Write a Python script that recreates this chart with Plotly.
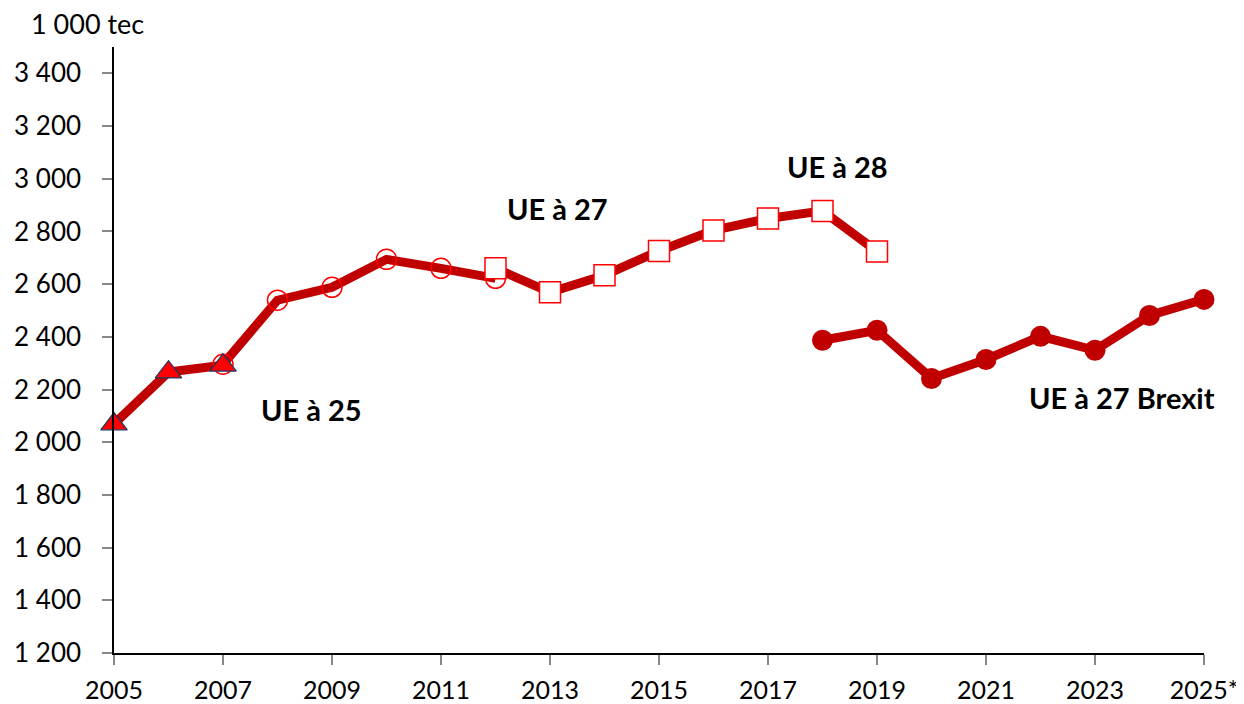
import plotly.graph_objects as go

# Data
years_ue25 = [2005, 2006, 2007]
vals_ue25 = [2069, 2266, 2292]

years_ue27 = [2007, 2008, 2009, 2010, 2011, 2012]
vals_ue27 = [2296, 2539, 2588, 2694, 2660, 2622]

years_ue28 = [2012, 2013, 2014, 2015, 2016, 2017, 2018, 2019]
vals_ue28 = [2660, 2569, 2634, 2726, 2804, 2849, 2878, 2724]

years_brexit = [2018, 2019, 2020, 2021, 2022, 2023, 2024, 2025]
vals_brexit = [2387, 2425, 2242, 2314, 2402, 2349, 2481, 2542]

x_tickvals = [2005, 2007, 2009, 2011, 2013, 2015, 2017, 2019, 2021, 2023, 2025]
x_ticktext = ["2005", "2007", "2009", "2011", "2013", "2015", "2017", "2019", "2021", "2023", "2025*"]
y_tickvals = [1200, 1400, 1600, 1800, 2000, 2200, 2400, 2600, 2800, 3000, 3200, 3400]
y_ticktext = ["1 200", "1 400", "1 600", "1 800", "2 000", "2 200", "2 400", "2 600", "2 800", "3 000", "3 200", "3 400"]

label_texts = ["UE à 25", "UE à 27", "UE à 28", "UE à 27 Brexit"]
label_x = [2008.63, 2013.13, 2018.28, 2023.5]
label_y = [2125, 2888, 3047, 2171]

LINE = "#C00000"
FONT = "Lato"

fig = go.Figure()

for xs, ys in [(years_ue25, vals_ue25), (years_ue27, vals_ue27), (years_ue28, vals_ue28)]:
    fig.add_trace(go.Scatter(x=xs, y=ys, mode="lines",
                             line=dict(color=LINE, width=9), cliponaxis=False,
                             hoverinfo="skip", showlegend=False))

fig.add_trace(go.Scatter(x=years_ue27, y=vals_ue27, mode="markers", cliponaxis=False,
                         marker=dict(symbol="circle-open", size=20, color="#FF0000",
                                     line=dict(color="#FF0000", width=1.5)),
                         showlegend=False))
fig.add_trace(go.Scatter(x=years_ue25, y=vals_ue25, mode="markers", cliponaxis=False,
                         marker=dict(symbol="triangle-up", size=23, color="#FF0000",
                                     line=dict(color="#203864", width=1.2)),
                         showlegend=False))
fig.add_trace(go.Scatter(x=years_ue28, y=vals_ue28, mode="markers", cliponaxis=False,
                         marker=dict(symbol="square", size=21, color="white",
                                     line=dict(color="#FF0000", width=1.5)),
                         showlegend=False))
fig.add_trace(go.Scatter(x=years_brexit, y=vals_brexit, mode="lines+markers", cliponaxis=False,
                         line=dict(color=LINE, width=9),
                         marker=dict(symbol="circle", size=21, color=LINE),
                         showlegend=False))

for txt, ax, ay in zip(label_texts, label_x, label_y):
    fig.add_annotation(x=ax, y=ay, text="<b>" + txt + "</b>", showarrow=False,
                       font=dict(family=FONT, size=29, color="black"),
                       xanchor="center", yanchor="middle")

# unit title above the y axis (page has an 8px body offset, accounted for in the figure size)
fig.add_annotation(x=0, y=1, xref="x domain", yref="y domain", text="1 000 tec",
                   showarrow=False, font=dict(family=FONT, size=27, color="black"),
                   xanchor="center", yanchor="middle", xshift=-27, yshift=24)

fig.update_layout(
    width=1236, height=696,
    margin=dict(l=106, r=40, t=39, b=51, autoexpand=False),
    plot_bgcolor="white", paper_bgcolor="white",
    font=dict(family=FONT, size=26, color="black"),
    xaxis=dict(range=[2005, 2025], tickvals=x_tickvals, ticktext=x_ticktext,
               showgrid=False, zeroline=False, showline=True, linecolor="black", linewidth=1.5,
               ticks="outside", ticklen=10, tickcolor="#888888", tickwidth=1.5,
               ticklabelstandoff=4, automargin=False, tickfont=dict(size=25)),
    yaxis=dict(range=[1200, 3500], tickvals=y_tickvals, ticktext=y_ticktext,
               showgrid=False, zeroline=False, showline=True, linecolor="black", linewidth=1.5,
               ticks="outside", ticklen=10, tickcolor="#888888", tickwidth=1.5,
               ticklabelstandoff=16, automargin=False),
)

fig.write_html("out.html")
